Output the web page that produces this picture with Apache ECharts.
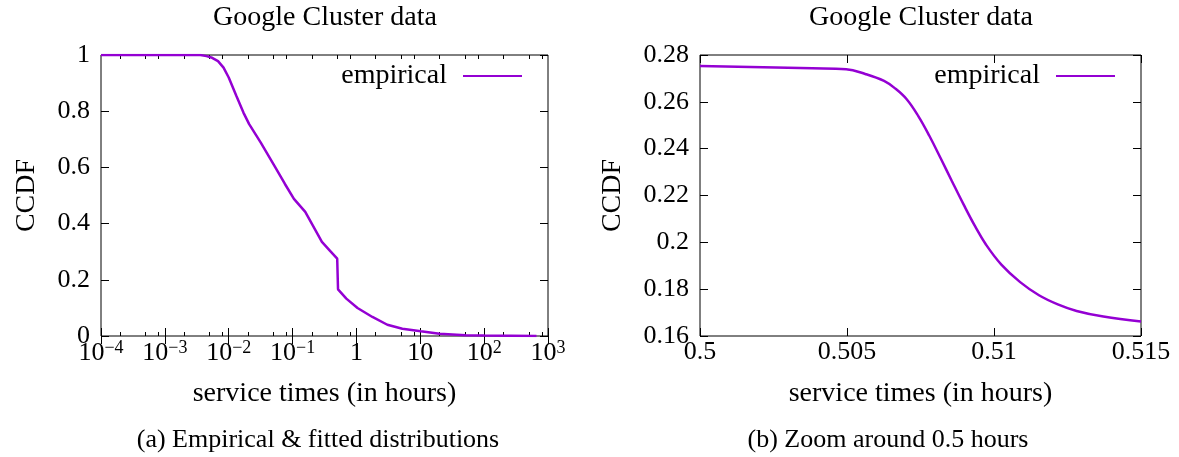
<!DOCTYPE html>
<html>
<head>
<meta charset="utf-8">
<script src="https://cdn.jsdelivr.net/npm/echarts@6/dist/echarts.min.js"></script>
<style>
  html, body { margin: 0; padding: 0; background: #fff; }
  #chart { width: 1179px; height: 457px; }
</style>
</head>
<body>
<div id="chart"></div>
<script>
// Empirical CCDF of Google Cluster service times (hours), full range
const fullHours = [0.0001, 0.0036, 0.0045, 0.0055, 0.0068, 0.0083, 0.01, 0.0132, 0.017, 0.0209, 0.0316, 0.0537,
  0.0759, 0.105, 0.158, 0.221, 0.288, 0.38, 0.5, 0.515, 0.695, 1.04, 1.78, 3.05, 5.24, 10.2,
  20, 51, 100, 660];
const fullCcdf = [1, 1, 0.996, 0.99, 0.978, 0.955, 0.92, 0.854, 0.795, 0.754, 0.689, 0.6,
  0.541, 0.488, 0.4415, 0.382, 0.335, 0.305, 0.2752, 0.1662, 0.133, 0.0997, 0.0677, 0.04, 0.026, 0.0166,
  0.0083, 0.003, 0.0015, 0];

// Same curve around the drop at half an hour
const zoomHours = [0.5, 0.50382, 0.50497, 0.50562, 0.50626, 0.50665, 0.50703, 0.50742, 0.5078, 0.50819,
  0.50857, 0.50896, 0.50935, 0.50973, 0.51025, 0.51089, 0.51153, 0.51217, 0.51281, 0.51372, 0.515];
const zoomCcdf = [0.2753, 0.2743, 0.2739, 0.2719, 0.2689, 0.2656, 0.2611, 0.254, 0.2455, 0.2358,
  0.2261, 0.2163, 0.207, 0.199, 0.1905, 0.183, 0.1774, 0.1735, 0.1707, 0.1683, 0.1662];

// Axis ticks
const logMajorTicks = [1e-4, 1e-3, 1e-2, 1e-1, 1, 10, 100, 1000];
const logMinorMantissas = [2, 5, 8];
const logMinorTicks = [];
[-4, -3, -2, -1, 0, 1, 2].forEach(function (e) {
  logMinorMantissas.forEach(function (m) { logMinorTicks.push(m * Math.pow(10, e)); });
});
const fullCcdfTicks = [0, 0.2, 0.4, 0.6, 0.8, 1];
const zoomHourTicks = [0.5, 0.505, 0.51, 0.515];
const zoomCcdfTicks = [0.16, 0.18, 0.2, 0.22, 0.24, 0.26, 0.28];

const FONT = '"Liberation Serif", "Times New Roman", serif';
const PURPLE = '#9400D3';
const TICK_STYLE = { color: '#000', width: 1 };
const TICK_SIZE = 26;
const NAME_SIZE = 28;

function pairs(xs, ys) { return xs.map(function (x, i) { return [x, ys[i]]; }); }

function powerLabel(v) {
  const e = Math.round(Math.log10(v));
  if (e === 0) return '{b|1}';
  if (e === 1) return '{b|10}';
  return '{b|10}{s|' + (e < 0 ? '\u2212' : '') + Math.abs(e) + '}';
}

const nameStyle = { fontFamily: FONT, fontSize: NAME_SIZE, color: '#000' };

function logAxis(position, ticks, len, withLabels) {
  return {
    type: 'log', logBase: 10, min: 1e-4, max: 1e3, gridIndex: 0, position: position,
    axisLine: { show: false },
    axisTick: { show: true, inside: true, length: len, customValues: ticks, lineStyle: TICK_STYLE },
    axisLabel: withLabels ? {
      show: true, customValues: ticks, margin: 3, formatter: powerLabel,
      rich: {
        b: { fontFamily: FONT, fontSize: TICK_SIZE, color: '#000', lineHeight: 28 },
        s: { fontFamily: FONT, fontSize: 18, color: '#000', verticalAlign: 'top', lineHeight: 16 }
      }
    } : { show: false },
    splitLine: { show: false },
    minorTick: { show: false }
  };
}

function valAxis(kind, gridIndex, position, min, max, ticks, withLabels, name, nameGap) {
  const ax = {
    type: 'value', gridIndex: gridIndex, position: position, min: min, max: max,
    axisLine: { show: false },
    axisTick: { show: true, inside: true, length: 8, customValues: ticks, lineStyle: TICK_STYLE },
    axisLabel: withLabels ? {
      show: true, customValues: ticks, margin: kind === 'x' ? 3 : 11,
      fontFamily: FONT, fontSize: TICK_SIZE, color: '#000',
      formatter: function (v) { return String(v); }
    } : { show: false },
    splitLine: { show: false }
  };
  if (name) {
    ax.name = name;
    ax.nameLocation = 'middle';
    ax.nameGap = nameGap;
    ax.nameTextStyle = nameStyle;
  }
  return ax;
}

const xAxes = [
  Object.assign(logAxis('bottom', logMajorTicks, 8, true), {
    name: 'service times (in hours)', nameLocation: 'middle', nameGap: 44, nameTextStyle: nameStyle
  }),
  logAxis('top', logMajorTicks, 8, false),
  logAxis('bottom', logMinorTicks, 4, false),
  logAxis('top', logMinorTicks, 4, false),
  valAxis('x', 1, 'bottom', 0.5, 0.515, zoomHourTicks, true, 'service times (in hours)', 44),
  valAxis('x', 1, 'top', 0.5, 0.515, zoomHourTicks, false)
];

const yAxes = [
  valAxis('y', 0, 'left', 0, 1, fullCcdfTicks, true, 'CCDF', 60),
  valAxis('y', 0, 'right', 0, 1, fullCcdfTicks, false),
  valAxis('y', 1, 'left', 0.16, 0.28, zoomCcdfTicks, true, 'CCDF', 73),
  valAxis('y', 1, 'right', 0.16, 0.28, zoomCcdfTicks, false)
];

function textItem(text, x, y, size) {
  return {
    type: 'text', x: x, y: y, silent: true,
    style: { text: text, font: size + 'px ' + FONT, fill: '#000', align: 'center', verticalAlign: 'middle' }
  };
}

function legendAt(right) {
  return {
    show: true, data: ['empirical'], right: right, top: 62, orient: 'horizontal', padding: 0,
    align: 'right', icon: 'rect', itemWidth: 59, itemHeight: 2, selectedMode: false,
    textStyle: { fontFamily: FONT, fontSize: 28, color: '#000', padding: [0, 11, 0, 0] }
  };
}

const chart = echarts.init(document.getElementById('chart'), null, { renderer: 'canvas' });
chart.setOption({
  animation: false,
  backgroundColor: '#fff',
  grid: [
    { left: 101, right: 631, top: 55, bottom: 121, show: true, borderColor: '#000', borderWidth: 1, backgroundColor: 'transparent', containLabel: false },
    { left: 700, right: 38, top: 55, bottom: 121, show: true, borderColor: '#000', borderWidth: 1, backgroundColor: 'transparent', containLabel: false }
  ],
  xAxis: xAxes,
  yAxis: yAxes,
  legend: [legendAt(657), legendAt(64)],
  series: [
    {
      name: 'empirical', type: 'line', xAxisIndex: 0, yAxisIndex: 0,
      data: pairs(fullHours, fullCcdf), showSymbol: false, symbol: 'none',
      lineStyle: { color: PURPLE, width: 2.5 }, itemStyle: { color: PURPLE }
    },
    {
      name: 'empirical', type: 'line', xAxisIndex: 4, yAxisIndex: 2,
      data: pairs(zoomHours, zoomCcdf), showSymbol: false, symbol: 'none',
      smooth: 0.4,
      lineStyle: { color: PURPLE, width: 2.5 }, itemStyle: { color: PURPLE }
    }
  ],
  graphic: [
    textItem('Google Cluster data', 325, 18, 28),
    textItem('Google Cluster data', 921, 18, 28),
    textItem('(a) Empirical & fitted distributions', 318, 440, 26),
    textItem('(b) Zoom around 0.5 hours', 888, 440, 26)
  ]
});
</script>
</body>
</html>
